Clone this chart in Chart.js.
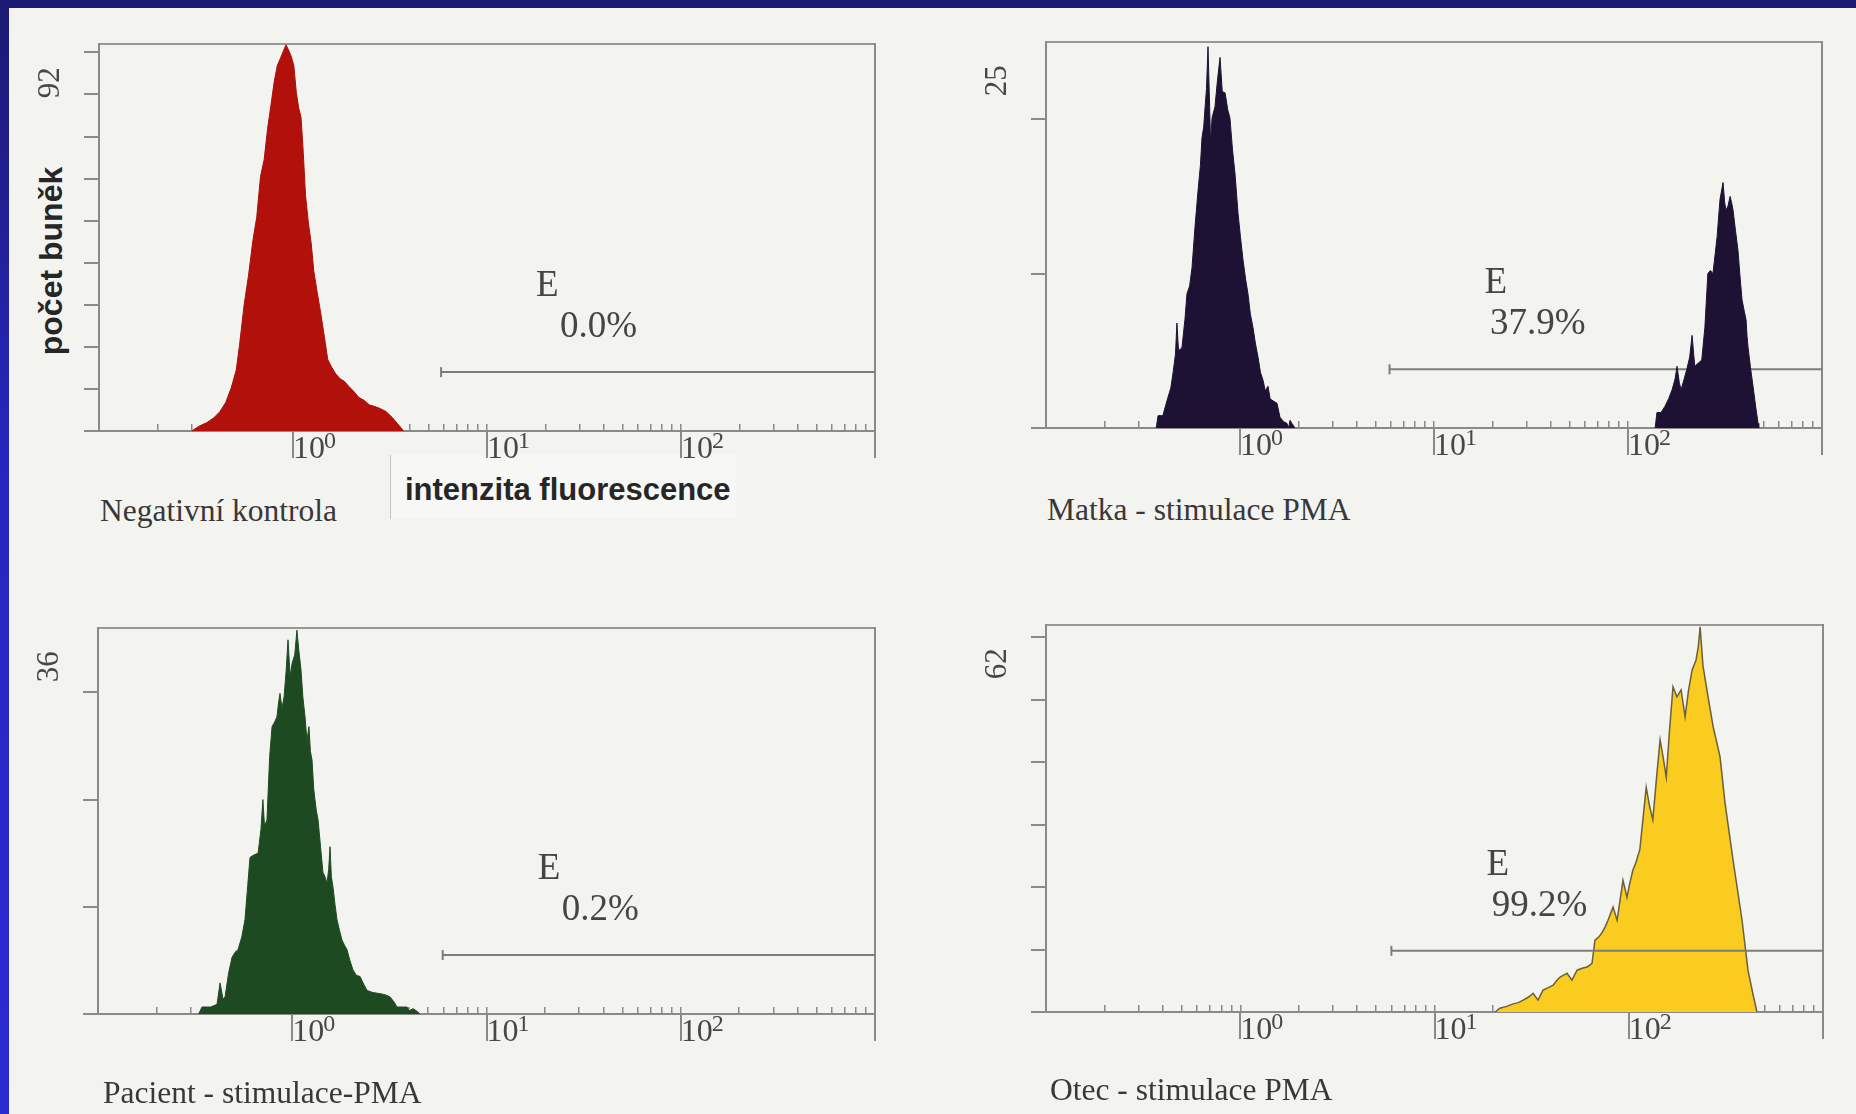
<!DOCTYPE html>
<html>
<head>
<meta charset="utf-8">
<script src="https://cdn.jsdelivr.net/npm/chart.js@4.4.1/dist/chart.umd.min.js"></script>
<style>
  html, body { margin: 0; padding: 0; }
  body { width: 1856px; height: 1114px; position: relative; overflow: hidden; background: #f3f3f0; }
  .band-top { position: absolute; left: 0; top: 0; width: 1856px; height: 8px; background: #1c1a72; }
  .band-left { position: absolute; left: 0; top: 0; width: 9px; height: 1114px;
               background: linear-gradient(#1c1a72, #2626bc 40%, #2b2bd4); }
  canvas { position: absolute; }
  .cap { position: absolute; font-family: "Liberation Serif", serif; font-size: 31.5px; color: #383838;
         white-space: nowrap; line-height: 1; }
  .axis-y { position: absolute; left: 51px; top: 261px; transform: translate(-50%, -50%) rotate(-90deg);
            font: bold 32px "Liberation Sans", sans-serif; color: #262626; white-space: nowrap; line-height: 1; }
  .axis-x-box { position: absolute; left: 390px; top: 455px; width: 345px; height: 64px;
                border-left: 1px solid #c4c4c4; background: #f7f7f5; }
  .axis-x { position: absolute; left: 405px; top: 474px; font: bold 31px "Liberation Sans", sans-serif;
            color: #262626; white-space: nowrap; line-height: 1; }
</style>
</head>
<body>
<div class="band-top"></div>
<div class="band-left"></div>
<div class="axis-x-box"></div>
<div class="axis-x">intenzita fluorescence</div>
<div class="axis-y">počet buněk</div>

<script>
// decade ticks of the fluorescence axis: base label and its exponent
var decadeValues = [1, 10, 100, 1000];
var decadeLabels = ['10', '10', '10', ''];
var decadeExps   = ['0', '1', '2', ''];

var panelNames  = ['Negativní kontrola', 'Matka - stimulace PMA', 'Pacient - stimulace-PMA', 'Otec - stimulace PMA'];
var countMax    = [92, 25, 36, 62];
var gatePercent = ['0.0%', '37.9%', '0.2%', '99.2%'];
var gateStart   = [5.8, 5.9, 5.95, 6.0];
var gateLevel   = [14.0, 3.8, 5.5, 9.8];

// histograms: fluorescence channel -> cell count
var negX = [0.30,0.33,0.36,0.39,0.42,0.45,0.48,0.51,0.53,0.56,
            0.59,0.62,0.65,0.68,0.71,0.74,0.77,0.80,0.83,0.86,
            0.89,0.92,0.95,0.98,1.01,1.04,1.07,1.10,1.13,1.16,
            1.20,1.24,1.28,1.33,1.39,1.45,1.51,1.58,1.66,1.75,
            1.84,1.94,2.05,2.18,2.32,2.48,2.65,2.83,3.02,3.25,
            3.45,3.72];
var negY = [0,1.2,2.0,3.1,4.6,6.8,10.2,14.5,20.4,30.0,
            37.0,45.0,50.8,60.5,64.5,72.0,77.5,83.0,86.9,88.5,
            90.2,91.8,90.5,89.0,86.8,80.5,76.8,74.6,66.0,56.0,
            49.5,44.8,38.0,33.2,28.0,22.5,17.0,15.2,13.6,12.4,
            11.8,10.6,9.5,8.0,7.3,6.2,5.8,5.3,4.6,3.2,
            1.8,0];

var matkaX = [0.37,0.378,0.40,0.421,0.44,0.452,0.465,0.473,0.482,0.502,
              0.52,0.533,0.55,0.566,0.586,0.608,0.625,0.637,0.65,0.661,
              0.672,0.684,0.695,0.705,0.718,0.743,0.765,0.789,0.81,0.838,
              0.865,0.887,0.915,0.942,0.977,1.005,1.036,1.07,1.099,1.13,
              1.167,1.2,1.238,1.275,1.314,1.35,1.394,1.43,1.462,1.552,
              1.607,1.68,1.746,1.78,1.811,1.85,1.92,
              10,
              138,141,148,155,162,169,175,179,184,188,
              195,201,208,214,218,221,230,240,249,258,
              266,274,281,288,298,309,315,320,328,336,
              342,348,358,369,378,387,397,406,411,416,
              428,441,455,468,472];
var matkaY = [0,0.8,0.8,1.8,2.6,3.6,4.8,6.8,5.0,5.2,
              7.0,8.7,9.2,10.4,13.0,15.4,17.0,18.8,19.5,20.8,
              22.0,24.7,21.5,18.5,20.1,20.8,22.5,24.0,21.8,21.7,
              20.6,20.1,18.0,16.5,13.9,12.4,10.9,9.6,8.7,7.4,
              6.5,5.5,4.6,3.6,3.1,2.4,2.7,1.9,1.8,1.6,
              0.7,0.4,0.3,0,0.5,0.3,0,
              null,
              0,1.0,1.0,1.4,1.9,2.5,3.2,4.0,2.9,2.5,
              3.2,3.8,4.6,6.0,4.8,4.0,4.2,4.4,6.5,10.0,
              10.2,10.0,11.2,12.4,14.8,15.9,14.6,14.1,14.4,15.0,
              14.6,14.1,12.8,11.5,9.8,8.3,7.6,7.0,5.9,5.2,
              3.9,2.7,1.4,0.3,0];

var pacientX = [0.33,0.343,0.38,0.41,0.425,0.44,0.451,0.47,0.49,0.51,
                0.526,0.55,0.571,0.59,0.606,0.63,0.667,0.69,0.706,0.72,
                0.741,0.765,0.787,0.81,0.834,0.85,0.865,0.885,0.908,0.93,
                0.951,0.975,0.998,1.03,1.057,1.08,1.109,1.135,1.164,1.19,
                1.219,1.24,1.264,1.29,1.309,1.33,1.358,1.40,1.439,1.475,
                1.51,1.54,1.565,1.59,1.622,1.66,1.70,1.75,1.803,1.86,
                1.914,1.98,2.055,2.14,2.233,2.33,2.427,2.6,2.829,3.0,
                3.186,3.35,3.46,3.7,3.899,4.0,4.188,4.35,4.546];
var pacientY = [0,0.65,0.65,0.9,2.9,1.4,1.6,3.8,5.3,5.8,
                6.0,7.2,8.8,12.0,14.6,14.8,15.0,17.2,20.0,17.5,
                18.1,24.0,26.8,27.2,27.7,29.0,29.9,28.5,29.6,32.0,
                34.9,31.5,32.7,33.5,35.8,34.0,32.1,29.5,27.7,25.5,
                26.8,24.5,23.7,21.0,20.0,19.0,18.1,15.5,13.2,12.8,
                12.2,13.5,15.6,12.8,11.8,10.2,8.8,7.8,6.9,6.4,
                6.0,5.0,4.1,3.6,3.5,2.8,2.2,2.0,1.9,1.8,
                1.6,1.1,0.65,0.65,0.65,0.3,0.5,0.3,0];

var otecX = [20.5,21.7,23.5,25.4,27,28.6,30.5,32.2,34.1,36.2,
             38.5,40.8,42.5,44.3,46.2,48.1,51.0,54.2,57.5,61.0,
             64.7,67.0,70.0,72.8,75.5,78.2,83.0,87.1,93.4,97.9,
             101,105,109,114,118,123,128,133,139,145,
             150,156,162,169,177,186,195,203,212,222,
             228,233,241,256,272,295,313,344,383,411,
             435,457];
var otecY = [0,0.6,0.9,1.3,1.5,1.9,2.4,3.0,1.9,3.5,
             3.9,4.3,5.0,5.6,5.9,6.2,5.1,6.7,7.0,7.2,
             7.8,11.5,12.0,12.7,13.6,14.7,16.8,14.7,21.1,18.4,
             20.5,22.7,24.0,26.0,30.5,36.0,33.0,30.8,37.5,43.6,
             41.0,37.6,45.0,52.1,50.5,51.6,47.3,51.5,54.8,56.4,
             58.5,61.7,55.5,50.5,45.7,40.9,33.5,24.4,14.7,6.7,
             3.0,0];

// layout and look of each panel: plot area [left, top, right, bottom] in page pixels
var frameGray = '#8a8a8a';
var labelGray = '#474747';
var panels = [
  { area: [99, 44, 875, 431],    xs: negX,     ys: negY,     fill: '#b2110b', line: '#a80f0a', lw: 1,   gateTop: true,
    cap: [100, 495] },
  { area: [1046, 42, 1822, 428], xs: matkaX,   ys: matkaY,   fill: '#1d1233', line: '#1d1233', lw: 1,   gateTop: false,
    cap: [1047, 494] },
  { area: [98, 628, 875, 1014],  xs: pacientX, ys: pacientY, fill: '#1e4a22', line: '#1e4a22', lw: 1,   gateTop: true,
    cap: [103, 1077] },
  { area: [1046, 625, 1823, 1012], xs: otecX,  ys: otecY,    fill: '#f9cc1f', line: '#6a5f3e', lw: 1.5, gateTop: true,
    cap: [1050, 1074] }
];

var gateText = {
  id: 'gateText',
  afterDatasetsDraw: function(chart, args, opts) {
    var ctx = chart.ctx;
    var px = chart.scales.x.getPixelForValue(opts.start);
    var py = chart.scales.y.getPixelForValue(opts.level);
    ctx.save();
    ctx.font = '37px "Liberation Serif", serif';
    ctx.fillStyle = '#454545';
    ctx.textBaseline = 'alphabetic';
    ctx.textAlign = 'left';
    ctx.fillText('E', px + 95, py - 76);
    ctx.textAlign = 'right';
    ctx.fillText(opts.pct, px + 196, py - 35);
    ctx.restore();
  }
};

// raised exponent after each "10" tick label
var decadeExp = {
  id: 'decadeExp',
  afterDraw: function(chart) {
    var s = chart.scales.x, ctx = chart.ctx;
    ctx.save();
    ctx.font = '32px "Liberation Serif", serif';
    var base = ctx.measureText('10').width;
    ctx.font = '24px "Liberation Serif", serif';
    ctx.fillStyle = labelGray;
    ctx.textAlign = 'left';
    ctx.textBaseline = 'alphabetic';
    decadeValues.forEach(function(v, k) {
      if (!decadeExps[k]) return;
      ctx.fillText(decadeExps[k], s.getPixelForValue(v) + base - 1, s.top + 17);
    });
    ctx.restore();
  }
};

function minorTicks() {
  var t = [];
  [0.1, 1, 10, 100].forEach(function(d) {
    for (var m = 1; m < 10; m++) t.push({ value: m * d });
  });
  t.push({ value: 1000 });
  return t;
}

function countTicks(max) {
  var t = [];
  for (var v = 0; v <= max; v += 10) t.push({ value: v });
  if (max % 10 !== 0) t.push({ value: max });
  return t;
}

function makePanel(i) {
  var p = panels[i];
  var L = p.area[0], T = p.area[1], R = p.area[2], B = p.area[3];
  var padL = 70, padT = 60, padR = 12, padB = 62;
  var w = R - L + padL + padR, h = B - T + padT + padB;
  var cv = document.createElement('canvas');
  cv.width = w; cv.height = h;
  cv.style.left = (L - padL) + 'px';
  cv.style.top = (T - padT) + 'px';
  cv.style.width = w + 'px';
  cv.style.height = h + 'px';
  document.body.appendChild(cv);

  var cap = document.createElement('div');
  cap.className = 'cap';
  cap.style.left = p.cap[0] + 'px';
  cap.style.top = p.cap[1] + 'px';
  cap.textContent = panelNames[i];
  document.body.appendChild(cap);

  var hist = p.xs.map(function(x, k) { return { x: x, y: p.ys[k] }; });
  var max = countMax[i];

  new Chart(cv, {
    type: 'line',
    data: {
      datasets: [
        {
          label: 'E',
          data: [{ x: gateStart[i], y: gateLevel[i] }, { x: 1000, y: gateLevel[i] }],
          borderColor: '#7c7c7c', borderWidth: 2, fill: false,
          pointRadius: [5, 0], pointStyle: 'line', pointRotation: 90,
          pointBorderColor: '#7c7c7c', pointBorderWidth: 2,
          order: p.gateTop ? 0 : 2
        },
        {
          label: panelNames[i],
          data: hist,
          borderColor: p.line, borderWidth: p.lw, backgroundColor: p.fill,
          fill: 'origin', pointRadius: 0, tension: 0, spanGaps: false,
          order: 1
        }
      ]
    },
    options: {
      responsive: false,
      animation: false,
      layout: { padding: { left: 0, top: padT, right: padR, bottom: 0 } },
      plugins: {
        legend: { display: false },
        tooltip: { enabled: false },
        gateText: { pct: gatePercent[i], start: gateStart[i], level: gateLevel[i] }
      },
      scales: {
        x: {
          type: 'logarithmic', position: 'bottom', min: 0.1, max: 1000, weight: 1,
          afterBuildTicks: function(s) { s.ticks = decadeValues.map(function(v) { return { value: v }; }); },
          afterFit: function(s) { s.height = padB; },
          border: { display: true, color: frameGray, width: 2 },
          grid: { drawOnChartArea: false, drawTicks: true, tickLength: 27, color: frameGray, lineWidth: 2 },
          ticks: {
            autoSkip: false, maxRotation: 0, minRotation: 0, align: 'start', padding: -28,
            color: labelGray, font: { family: '"Liberation Serif", serif', size: 32 },
            callback: function(v) { var k = decadeValues.indexOf(v); return k >= 0 ? decadeLabels[k] : ''; }
          }
        },
        xMinor: {
          type: 'logarithmic', position: 'bottom', min: 0.1, max: 1000, weight: 0,
          afterBuildTicks: function(s) { s.ticks = minorTicks(); },
          afterFit: function(s) { s.height = 0; },
          border: { display: false },
          grid: { drawOnChartArea: false, drawTicks: true, tickLength: -7, color: frameGray, lineWidth: 1.5 },
          ticks: { display: false }
        },
        xTop: {
          type: 'linear', position: 'top',
          afterFit: function(s) { s.height = 0; },
          border: { display: true, color: '#979797', width: 2 },
          grid: { display: false },
          ticks: { display: false }
        },
        y: {
          type: 'linear', position: 'left', min: 0, max: max,
          afterBuildTicks: function(s) { s.ticks = countTicks(max); },
          afterFit: function(s) { s.width = padL; },
          border: { display: true, color: frameGray, width: 2 },
          grid: {
            drawOnChartArea: false, drawTicks: true, tickLength: 15, lineWidth: 2,
            color: function(c) { return c.tick && c.tick.value % 10 === 0 ? frameGray : 'rgba(0,0,0,0)'; }
          },
          ticks: {
            autoSkip: false, minRotation: 90, maxRotation: 90, padding: 33,
            color: labelGray, font: { family: '"Liberation Serif", serif', size: 31 },
            callback: function(v) { return v === max ? String(max) + '   ' : ''; }
          }
        },
        yRight: {
          type: 'linear', position: 'right',
          afterFit: function(s) { s.width = 0; },
          border: { display: true, color: frameGray, width: 2 },
          grid: { display: false },
          ticks: { display: false }
        }
      }
    },
    plugins: [gateText, decadeExp]
  });
}

for (var i = 0; i < panels.length; i++) makePanel(i);
</script>
</body>
</html>
